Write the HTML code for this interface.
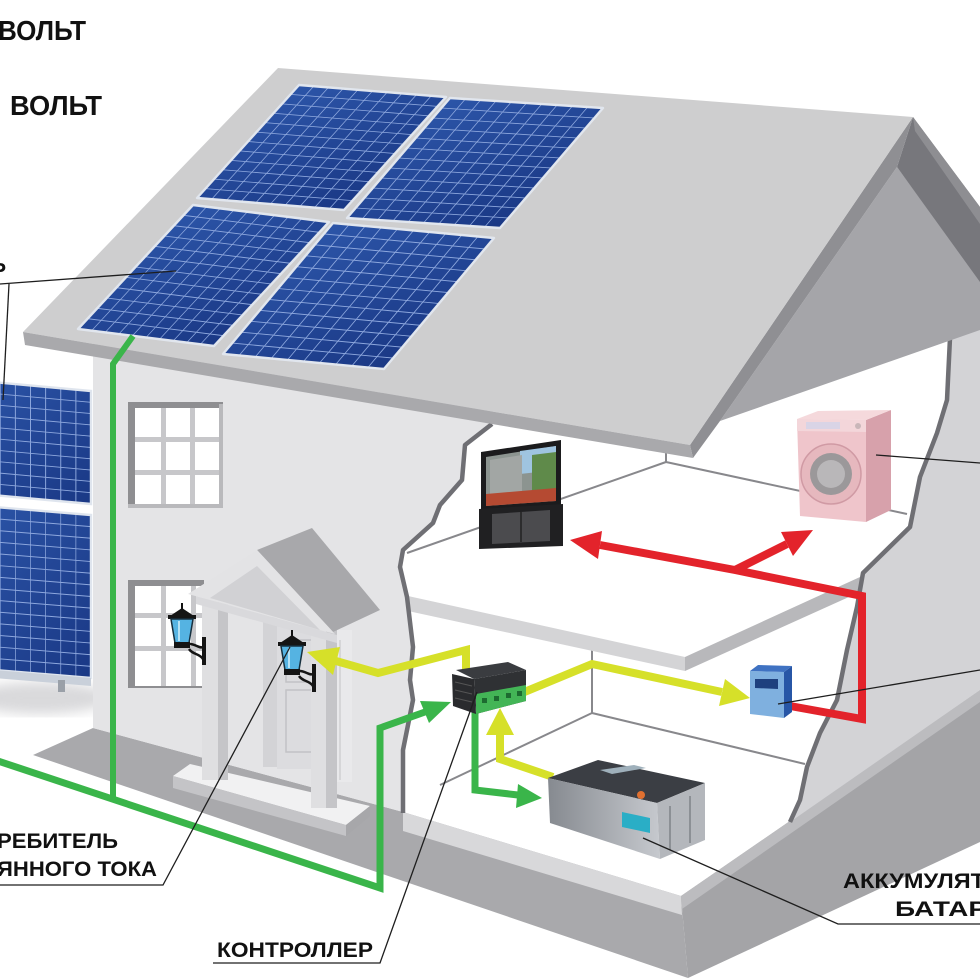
<!DOCTYPE html>
<html><head><meta charset="utf-8"><style>
html,body{margin:0;padding:0;background:#fff;}
svg{display:block;}
text{font-family:"Liberation Sans","Noto Sans CJK SC",sans-serif;font-weight:bold;fill:#111;}
</style></head><body>
<svg width="980" height="980" viewBox="0 0 980 980" xmlns="http://www.w3.org/2000/svg">
<defs>
<linearGradient id="pg" x1="0" y1="0" x2="1" y2="1"><stop offset="0" stop-color="#2c55a8"/><stop offset="1" stop-color="#1a3885"/></linearGradient>
<linearGradient id="bat" x1="0" y1="0" x2="1" y2="0"><stop offset="0" stop-color="#868a90"/><stop offset="1" stop-color="#c6c9ce"/></linearGradient>
<filter id="bl"><feGaussianBlur stdDeviation="6"/></filter>
<g id="g10"><rect width="1" height="1" fill="url(#pg)"/><path d="M.1 0V1M.2 0V1M.3 0V1M.4 0V1M.5 0V1M.6 0V1M.7 0V1M.8 0V1M.9 0V1M0 .0833H1M0 .1667H1M0 .25H1M0 .3333H1M0 .4167H1M0 .5H1M0 .5833H1M0 .6667H1M0 .75H1M0 .8333H1M0 .9167H1" stroke="#8ea8de" stroke-width="0.0065" fill="none"/></g>
<g id="g8a"><rect width="1" height="1" fill="url(#pg)"/><path d="M.125 0V1M.25 0V1M.375 0V1M.5 0V1M.625 0V1M.75 0V1M.875 0V1M0 .1H1M0 .2H1M0 .3H1M0 .4H1M0 .5H1M0 .6H1M0 .7H1M0 .8H1M0 .9H1" stroke="#8ea8de" stroke-width="0.008" fill="none"/></g>
<g id="g8b"><rect width="1" height="1" fill="url(#pg)"/><path d="M.125 0V1M.25 0V1M.375 0V1M.5 0V1M.625 0V1M.75 0V1M.875 0V1M0 .0714H1M0 .1429H1M0 .2143H1M0 .2857H1M0 .3571H1M0 .4286H1M0 .5H1M0 .5714H1M0 .6429H1M0 .7143H1M0 .7857H1M0 .8571H1M0 .9286H1" stroke="#8ea8de" stroke-width="0.006" fill="none"/></g>
<g id="lamp">
<line x1="15" y1="0" x2="15" y2="8" stroke="#111" stroke-width="2"/>
<polygon points="3,13 15,5 27,13" fill="#151515"/>
<rect x="1" y="12" width="28" height="4" fill="#151515"/>
<polygon points="4,16 26,16 22,40 8,40" fill="#55b3e2" stroke="#17303f" stroke-width="1.5"/>
<line x1="12" y1="18" x2="12" y2="38" stroke="#b5e2f5" stroke-width="2"/>
<rect x="7" y="39" width="16" height="6" fill="#151515"/>
<path d="M20,41 C28,40 32,46 36,44 M22,46 C26,52 32,50 36,56" stroke="#151515" stroke-width="2.5" fill="none"/>
<rect x="35" y="34" width="4" height="28" fill="#151515"/>
</g>
</defs>

<!-- shadow under side array -->
<ellipse cx="40" cy="698" rx="70" ry="16" fill="#c9c9cc" opacity=".7" filter="url(#bl)"/>

<!-- base -->
<polygon points="33,755 93,728 403,812 681,896 688,978" fill="#a9a9ac"/>
<polygon points="403,812 681,896 682,915 403,831" fill="#d8d8da"/>
<polygon points="681,896 980,690 980,842 688,978" fill="#a4a4a7"/>
<polygon points="681,896 980,690 980,702 682,909" fill="#bcbcbf"/>

<!-- right wall -->
<polygon points="950,330 980,320 980,690 790,822 800,800 807,767 820,733 837,700 847,650 857,607 863,573 910,527 920,477 937,433 947,400" fill="#d3d3d6"/>
<!-- front wall -->
<polygon points="93,330 495,330 490,426 465,445 462,480 440,505 433,523 403,550 400,567 407,597 413,647 410,680 413,700 403,750 403,812 93,728" fill="#e4e4e6"/>

<!-- interior lines -->
<g stroke="#88888c" stroke-width="2" fill="none">
<path d="M407,553 L666,462 M666,452 L666,463 M666,462 L907,514"/>
<path d="M592,650 L592,713 M592,713 L805,764 M592,713 L440,785"/>
</g>
<!-- upper slab -->
<polygon points="408,596 685,657 685,671 408,611" fill="#d4d4d6"/>
<polygon points="685,657 860,577 860,592 685,671" fill="#b8b8bb"/>

<!-- jagged outlines -->
<g stroke="#6f6f74" stroke-width="4.5" fill="none" stroke-linejoin="round">
<polyline points="492,424 465,445 462,480 440,505 433,523 403,550 400,567 407,597 413,647 410,680 413,700 403,750 403,813"/>
<polyline points="950,338 947,400 937,433 920,477 910,527 863,573 857,607 847,650 837,700 820,733 807,767 800,800 790,822"/>
</g>

<!-- gable & roof -->
<polygon points="897,167 980,280 980,330 720,421" fill="#a5a5a9"/>
<polygon points="913,117 980,207 980,282 897,167" fill="#77777c"/>
<polygon points="913,117 980,207 980,224 915,131" fill="#8e8e92"/>
<polygon points="913,117 897,167 720,421 693,458 690,445" fill="#8f8f93"/>
<polygon points="278,68 913,117 690,445 23,332" fill="#cececf"/>
<polygon points="23,332 690,445 693,458 25,345" fill="#a9a9ac"/>

<!-- roof panels -->
<g transform="matrix(147,12,-102,113,299,85)"><use href="#g10"/></g>
<g transform="matrix(153,10,-103,120,450,98)"><use href="#g10"/></g>
<g transform="matrix(136,17,-115,124,193,205)"><use href="#g10"/></g>
<g transform="matrix(161,15,-110,131,333,223)"><use href="#g10"/></g>
<g fill="none" stroke="#e1e6ee" stroke-width="2.4" stroke-linejoin="round">
<polygon points="299,85 446,97 344,210 197,198"/>
<polygon points="450,98 603,108 500,228 347,218"/>
<polygon points="193,205 329,222 214,346 78,329"/>
<polygon points="333,223 494,238 384,369 223,354"/>
</g>

<!-- windows -->
<rect x="128" y="402" width="95" height="106" fill="#8e8e91"/>
<rect x="135" y="408" width="86" height="98" fill="#fff"/>
<g fill="#c7c7ca"><rect x="161" y="408" width="5" height="98"/><rect x="190" y="408" width="5" height="98"/><rect x="135" y="437" width="86" height="5"/><rect x="135" y="470" width="86" height="5"/></g>
<rect x="219" y="404" width="4" height="104" fill="#b9b9bc"/>
<rect x="128" y="504" width="95" height="4" fill="#b9b9bc"/>
<rect x="128" y="580" width="76" height="108" fill="#8e8e91"/>
<rect x="135" y="586" width="69" height="100" fill="#fff"/>
<g fill="#c7c7ca"><rect x="161" y="586" width="5" height="100"/><rect x="191" y="586" width="5" height="100"/><rect x="135" y="613" width="69" height="5"/><rect x="135" y="646" width="69" height="5"/></g>

<!-- porch -->
<polygon points="173,776 190,764 370,806 346,825" fill="#f1f1f2"/>
<polygon points="173,776 346,825 346,836 173,788" fill="#c4c4c7"/>
<polygon points="346,825 370,806 370,816 346,836" fill="#a7a7aa"/>
<rect x="263" y="617" width="14" height="150" fill="#d3d3d6"/>
<rect x="277" y="625" width="43" height="144" fill="#dcdcdf"/>
<rect x="286" y="640" width="26" height="42" fill="none" stroke="#c2c2c5" stroke-width="1.5"/>
<rect x="286" y="690" width="26" height="62" fill="none" stroke="#c2c2c5" stroke-width="1.5"/>
<rect x="320" y="630" width="32" height="152" fill="#e9e9eb"/>
<line x1="340" y1="640" x2="340" y2="780" stroke="#cfcfd2" stroke-width="1.5"/>
<rect x="202" y="598" width="16" height="182" fill="#dfdfe1"/>
<rect x="218" y="598" width="10" height="182" fill="#c5c5c8"/>
<rect x="311" y="630" width="15" height="178" fill="#dfdfe1"/>
<rect x="326" y="630" width="11" height="178" fill="#c5c5c8"/>
<polygon points="196,596 337,635 337,643 196,604" fill="#d9d9dc"/>
<polygon points="257,550 312,528 380,610 333,632" fill="#a8a8ab"/>
<polygon points="188,594 257,550 335,634" fill="#e3e3e5"/>
<polygon points="210,598 257,566 320,630" fill="#d1d1d4"/>

<!-- lamps -->
<use href="#lamp" transform="translate(167,603)"/>
<use href="#lamp" transform="translate(277,630)"/>

<!-- TV -->
<polygon points="481,452 561,440 561,506 481,511" fill="#1b1b1d"/>
<polygon points="486,457 556,446 556,501 486,506" fill="#8c9490"/>
<polygon points="520,451 556,446 556,470 520,474" fill="#9fc4e0"/>
<polygon points="532,455 556,452 556,495 532,497" fill="#5f8a4a"/>
<polygon points="490,460 522,455 522,494 490,497" fill="#a2a6a4"/>
<polygon points="486,494 556,488 556,501 486,506" fill="#b54a32"/>
<polygon points="479,509 563,504 563,546 479,549" fill="#202022"/>
<polygon points="492,514 550,510 550,541 492,544" fill="#4b4b4e"/>
<line x1="521" y1="512" x2="521" y2="542" stroke="#222" stroke-width="1.5"/>

<!-- washer -->
<polygon points="866,420 891,410 891,510 866,522" fill="#d7a1ab"/>
<polygon points="797,419 866,420 866,522 800,516" fill="#efc5cb"/>
<polygon points="797,419 818,411 891,410 866,420" fill="#f5d9dc"/>
<polygon points="797,419 866,420 866,432 797,431" fill="#f3d6da"/>
<rect x="806" y="422" width="34" height="7" fill="#d9d4e6"/>
<circle cx="858" cy="426" r="3" fill="#c9b6b9"/>
<circle cx="831" cy="474" r="30" fill="#e6b8be" stroke="#d09aa4" stroke-width="1.5"/>
<circle cx="831" cy="474" r="21" fill="#9b989a"/>
<circle cx="831" cy="474" r="14" fill="#b9b7b9"/>

<!-- arrows -->
<g fill="none" stroke-linejoin="miter">
<polyline points="-5,760 380,888 380,728 425,712" stroke="#3ab54a" stroke-width="7"/>
<polyline points="133,336 113,364 113,799" stroke="#3ab54a" stroke-width="6"/>
<polyline points="475,712 475,790 518,795" stroke="#3ab54a" stroke-width="7"/>
<polyline points="466,672 466,650 378,673 336,661" stroke="#d6e029" stroke-width="8"/>
<polyline points="522,693 592,664 722,692" stroke="#d6e029" stroke-width="8"/>
<polyline points="553,777 500,759 500,733" stroke="#d6e029" stroke-width="8"/>
<polyline points="790,706 862,719 862,596 735,570 600,545" stroke="#e3232b" stroke-width="8"/>
<polyline points="735,570 787,544" stroke="#e3232b" stroke-width="8"/>
</g>
<polygon points="451,702 429,723 420,701" fill="#3ab54a"/>
<polygon points="542,798 518,784 516,808" fill="#3ab54a"/>
<polygon points="307,652 340,647 333,675" fill="#d6e029"/>
<polygon points="750,698 725,679 719,706" fill="#d6e029"/>
<polygon points="500,708 514,735 486,735" fill="#d6e029"/>
<polygon points="570,540 602,531 598,559" fill="#e3232b"/>
<polygon points="813,530 793,556 781,532" fill="#e3232b"/>

<!-- meter -->
<polygon points="750,671 784,672 784,718 750,714" fill="#7fb0df"/>
<polygon points="784,672 792,666 792,712 784,718" fill="#2756a6"/>
<polygon points="750,671 758,665 792,666 784,672" fill="#3f72c2"/>
<polygon points="755,679 778,679 778,689 755,688" fill="#1e407e"/>

<!-- controller -->
<polygon points="456,670 508,662 526,670 474,679" fill="#3a3c40"/>
<polygon points="452,674 474,679 476,714 453,706" fill="#2a2b2e"/>
<path d="M455,682 L472,686 M455,690 L472,694 M455,698 L472,702" stroke="#555" stroke-width="1"/>
<polygon points="474,679 526,670 526,701 476,714" fill="#2f3134"/>
<polygon points="476,694 526,685 526,701 476,714" fill="#43b556"/>
<g fill="#1d6b30"><rect x="482" y="698" width="5" height="5"/><rect x="494" y="696" width="5" height="5"/><rect x="506" y="693" width="5" height="5"/><rect x="517" y="691" width="5" height="5"/></g>

<!-- battery -->
<polygon points="548,778 598,760 705,783 657,803" fill="#3b3e44"/>
<polygon points="600,770 634,765 646,768 612,774" fill="#9fb0bb"/>
<polygon points="548,778 657,803 660,859 550,823" fill="url(#bat)"/>
<polygon points="657,803 705,783 705,840 660,859" fill="#b4b7bc"/>
<path d="M670,806 L670,850 M690,796 L690,843" stroke="#8c9095" stroke-width="2"/>
<polygon points="622,812 650,818 650,833 622,827" fill="#2aaec6"/>
<circle cx="641" cy="795" r="4" fill="#e07030"/>

<!-- side solar array -->
<g transform="matrix(121,11,0,113,-30,380)"><use href="#g8a"/></g>
<g transform="matrix(121,10,0,163,-30,505)"><use href="#g8b"/></g>
<g fill="none" stroke="#dfe5ee" stroke-width="2.4">
<polygon points="-30,380 91,391 91,504 -30,493"/>
<polygon points="-30,505 91,515 91,678 -30,668"/>
</g>
<polygon points="-30,668 91,678 91,686 -30,676" fill="#c9d0da"/>
<rect x="58" y="680" width="7" height="12" fill="#9aa0a8"/>

<!-- leaders -->
<g stroke="#1e1e1e" stroke-width="1.3" fill="none">
<polyline points="0,284 176,271"/>
<polyline points="9,284 3,400"/>
<polyline points="0,885 163,885 290,647"/>
<polyline points="213,963 380,963 477,692"/>
<polyline points="980,924 838,924 643,838"/>
<polyline points="876,455 980,463"/>
<polyline points="778,704 980,670"/>
</g>

<!-- labels -->
<text x="-2" y="40" font-size="28" textLength="88" lengthAdjust="spacingAndGlyphs">ВОЛЬТ</text>
<text x="10" y="115" font-size="28" textLength="92" lengthAdjust="spacingAndGlyphs">ВОЛЬТ</text>
<text x="-9" y="272" font-size="21">Ь</text>
<text x="-3" y="848" font-size="21" textLength="121" lengthAdjust="spacingAndGlyphs">РЕБИТЕЛЬ</text>
<text x="-3" y="876" font-size="21" textLength="160" lengthAdjust="spacingAndGlyphs">ЯННОГО ТОКА</text>
<text x="217" y="957" font-size="21" textLength="156" lengthAdjust="spacingAndGlyphs">КОНТРОЛЛЕР</text>
<text x="843" y="888" font-size="21" textLength="142" lengthAdjust="spacingAndGlyphs">АККУМУЛЯТ</text>
<text x="895" y="916" font-size="21" textLength="92" lengthAdjust="spacingAndGlyphs">БАТАР</text>
</svg>
</body></html>
